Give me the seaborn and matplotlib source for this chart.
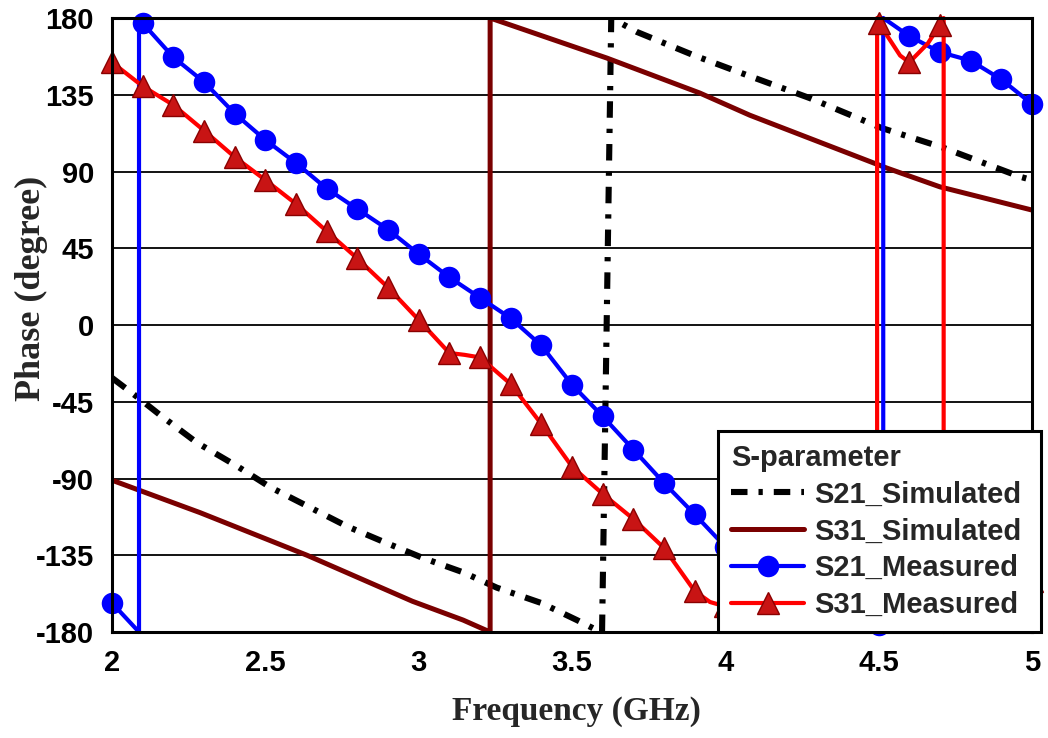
import numpy as np
import pandas as pd
import matplotlib
matplotlib.use("Agg")
import matplotlib.pyplot as plt
from matplotlib.ticker import MultipleLocator
import seaborn as sns

# Phase responses (degrees) versus frequency (GHz); repeated x values mark phase wraps
s21_sim_freq = [2.0, 2.088, 2.157, 2.277, 2.41, 2.515, 2.646, 2.766, 2.884, 3.014,
                3.145, 3.255, 3.4, 3.516, 3.58, 3.598, 3.628, 3.712, 3.895, 4.048,
                4.276, 4.51, 4.71, 4.96, 5.0]
s21_sim_phase = [-31, -43, -52.8, -69, -83, -95, -107, -118, -127, -136.6,
                 -145, -154, -163, -173, -178.8, -180, 180, 171.8, 158.3, 148,
                 133, 115.5, 104, 87, 85]

s31_sim_freq = [2.0, 2.287, 2.636, 2.98, 3.145, 3.233, 3.233, 3.614, 3.917, 4.08,
                4.527, 4.70, 5.0]
s31_sim_phase = [-91, -110, -135, -162, -173, -180, 180, 156.5, 136, 123,
                 92, 81, 67.4]

s21_meas_freq = [2.0, 2.088, 2.088, 2.1, 2.2, 2.3, 2.4, 2.5, 2.6, 2.7, 2.8, 2.9,
                 3.0, 3.1, 3.2, 3.3, 3.4, 3.5, 3.6, 3.7, 3.8, 3.9, 4.0, 4.1,
                 4.2, 4.3, 4.4, 4.5, 4.515, 4.515, 4.6, 4.7, 4.8, 4.9, 5.0]
s21_meas_phase = [-163, -180, 180, 177, 157, 142.5, 124, 108.5, 95, 80, 68, 56,
                  41.6, 28, 16, 4, -12, -35, -53.5, -73, -92.6, -111, -130, -145,
                  -157, -165, -171, -176, -180, 180, 169.4, 160, 155, 144, 129.6]

s31_meas_freq = [2.0, 2.1, 2.2, 2.3, 2.4, 2.5, 2.6, 2.7, 2.8, 2.9, 3.0, 3.1,
                 3.15, 3.2, 3.3, 3.4, 3.5, 3.6, 3.7, 3.8, 3.9, 3.95, 4.0, 4.1,
                 4.2, 4.3, 4.4, 4.495, 4.495, 4.5, 4.53, 4.57, 4.6, 4.66, 4.7,
                 4.712, 4.712, 4.8, 4.9, 5.0]
s31_meas_phase = [154, 140, 129, 114, 98.5, 85, 71, 55, 39, 22, 3, -16.4,
                  -17.5, -19, -34.6, -58, -83, -99, -113.7, -130.7, -156, -162.4, -165, -167,
                  -169, -170, -172, -180, 180, 177, 169, 158, 154, 165, 176,
                  180, -180, -165, -158, -150]

x_ticks = [2, 2.5, 3, 3.5, 4, 4.5, 5]
x_tick_labels = ["2", "2.5", "3", "3.5", "4", "4.5", "5"]
y_ticks = [180, 135, 90, 45, 0, -45, -90, -135, -180]
y_tick_labels = ["180", "135", "90", "45", "0", "-45", "-90", "-135", "-180"]

sns.set_theme(style="white")
plt.rcParams["font.family"] = ["Liberation Sans", "DejaVu Sans"]

fig = plt.figure(figsize=(10.48, 7.38), dpi=100)
ax = fig.add_axes([0.1069, 0.1436, 0.8778, 0.8320])


def marker_idx(freqs):
    # markers only on the 0.1 GHz measurement grid
    return [i for i, f in enumerate(freqs) if abs(f * 10 - round(f * 10)) < 1e-6
            and not (i > 0 and freqs[i - 1] == f)]


def frame(f, p):
    return pd.DataFrame({"freq": f, "phase": p})


sns.lineplot(data=frame(s21_sim_freq, s21_sim_phase), x="freq", y="phase",
             ax=ax, sort=False, estimator=None, color="black", linewidth=4.4,
             dashes=False, linestyle=(0, (2.7, 1.8, 0.7, 1.8)),
             label="S21_Simulated", zorder=3)
sns.lineplot(data=frame(s31_sim_freq, s31_sim_phase), x="freq", y="phase",
             ax=ax, sort=False, estimator=None, color="#7a0000", linewidth=3.6,
             label="S31_Simulated", zorder=3)
sns.lineplot(data=frame(s21_meas_freq, s21_meas_phase), x="freq", y="phase",
             ax=ax, sort=False, estimator=None, color="#0000ff", linewidth=3.0,
             marker="o", markersize=15.5, markeredgewidth=0,
             markevery=marker_idx(s21_meas_freq), label="S21_Measured",
             clip_on=False, zorder=4)
sns.lineplot(data=frame(s31_meas_freq, s31_meas_phase), x="freq", y="phase",
             ax=ax, sort=False, estimator=None, color="#ff0000", linewidth=3.0,
             marker="^", markersize=16, markerfacecolor="#c81414",
             markeredgecolor="#8a0000", markeredgewidth=1.0,
             markevery=marker_idx(s31_meas_freq), label="S31_Measured",
             clip_on=False, zorder=4)

ax.set_xlim(2, 5)
ax.set_ylim(-180, 180)
ax.set_xticks(x_ticks)
ax.set_xticklabels(x_tick_labels)
ax.set_yticks(y_ticks)
ax.set_yticklabels(y_tick_labels)
ax.xaxis.set_minor_locator(MultipleLocator(0.1))
ax.yaxis.set_minor_locator(MultipleLocator(9))
ax.tick_params(axis="both", which="major", direction="in", length=11, width=1.6,
               labelsize=21, colors="black")
ax.tick_params(axis="y", which="major", pad=13)
ax.tick_params(axis="x", which="major", pad=12)
ax.tick_params(axis="both", which="minor", direction="in", length=5, width=1.3)
for lab in ax.get_xticklabels() + ax.get_yticklabels():
    lab.set_fontweight("bold")

ax.grid(axis="y", color="black", linewidth=1.3)
ax.grid(axis="x", visible=False)
for side, sp in ax.spines.items():
    sp.set_color("black")
    sp.set_linewidth(2.2)
    sp.set_zorder(5)

ax.set_xlabel("Frequency (GHz)", fontsize=24, fontweight="bold",
              family=["Liberation Serif", "DejaVu Serif"], va="center", ha="center")
ax.set_ylabel("Phase (degree)", fontsize=26, fontweight="bold",
              family=["Liberation Serif", "DejaVu Serif"], va="center", ha="center")
ax.xaxis.set_label_coords(0.505, -0.130)
ax.yaxis.set_label_coords(-0.088, 0.56)

leg = ax.legend(title="S-parameter", loc="lower left",
                bbox_to_anchor=(0.6587, 0.0, 0.351, 0.32), mode="expand",
                borderaxespad=0,
                frameon=True, fancybox=False, framealpha=1,
                edgecolor="black", fontsize=21, title_fontsize=21,
                handlelength=2.5, handletextpad=0.34, labelspacing=0.3,
                borderpad=0.45, alignment="left")
leg.get_frame().set_linewidth(2.2)
leg.set_zorder(10)
leg.get_title().set_fontweight("bold")
for t in leg.get_texts():
    t.set_fontweight("bold")

fig.savefig("out.png", dpi=100)
